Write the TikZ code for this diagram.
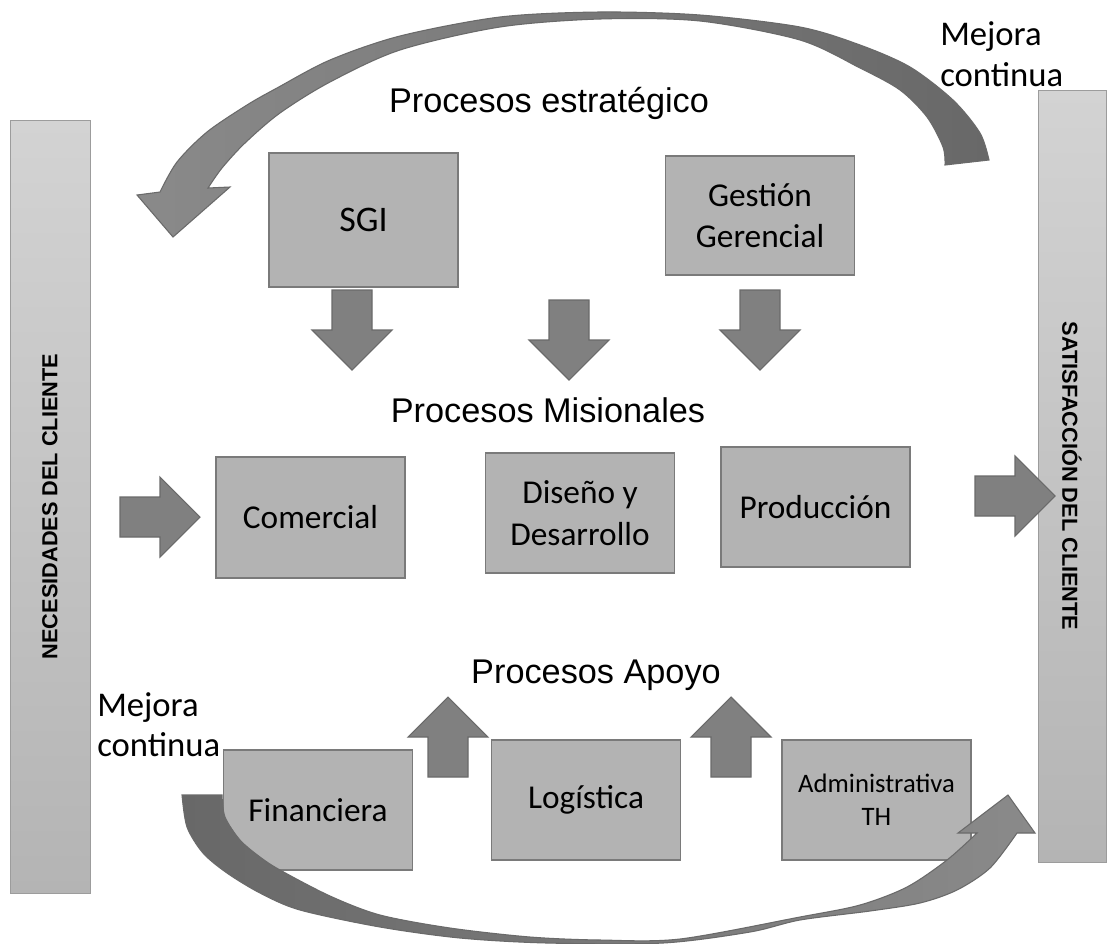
\documentclass[tikz,border=0pt]{standalone}
\usepackage{fontspec}
\setmainfont{Carlito}
\newfontfamily\arialf{Liberation Sans}
\definecolor{boxfill}{HTML}{B3B3B3}
\definecolor{boxline}{HTML}{7A7A7A}
\definecolor{arrfill}{HTML}{808080}
\definecolor{arrline}{HTML}{6A6A6A}
\definecolor{curvdark}{HTML}{686868}
\definecolor{curvlight}{HTML}{8A8A8A}
\definecolor{bartop}{HTML}{D3D3D3}
\definecolor{barbot}{HTML}{B4B4B4}
\definecolor{barline}{HTML}{9C9C9C}
\begin{document}
\begin{tikzpicture}[x=0.75pt,y=-0.75pt,
  procbox/.style={draw=boxline, line width=0.9pt, fill=boxfill, minimum width=141.75pt,
    minimum height=90pt, inner sep=2pt, align=center, font=\fontsize{25}{31}\selectfont},
  sidebar/.style={draw=barline, line width=0.6pt, top color=bartop, bottom color=barbot, inner sep=0pt},
  sidetext/.style={font=\arialf\bfseries\fontsize{16.3}{20}\selectfont, inner sep=0pt},
  titletext/.style={font=\arialf\fontsize{25.7}{30}\selectfont, inner sep=0pt},
  mejtext/.style={font=\fontsize{26}{31}\selectfont, inner sep=0pt, anchor=base west},
  blockarr/.style={fill=arrfill, draw=arrline, line width=0.8pt, line join=miter},
  curvarr/.style={draw=arrline, line width=0.8pt, line join=miter},
  rarr/.pic={\path[blockarr] (0,-20)--(40,-20)--(40,-40)--(80,0)--(40,40)--(40,20)--(0,20)--cycle;},
  darr/.pic={\path[blockarr] (-20,0)--(-20,40)--(-40,40)--(0,80)--(40,40)--(20,40)--(20,0)--cycle;},
  uarr/.pic={\path[blockarr] (-20,0)--(-20,-40)--(-40,-40)--(0,-80)--(40,-40)--(20,-40)--(20,0)--cycle;}
]
\useasboundingbox[fill=white] (0,0) rectangle (1109,943);

% side bars
\node[sidebar, minimum width=60pt, minimum height=579.75pt] (needs) at (50,506.5) {};
\node[sidetext, rotate=90] (needstxt) at (needs.center) {NECESIDADES DEL CLIENTE};
\node[sidebar, minimum width=51pt, minimum height=579pt] (satis) at (1072,476) {};
\node[sidetext, rotate=-90] (satistxt) at (satis.center) {SATISFACCIÓN DEL CLIENTE};

% top curved arrow (mejora continua)
\path[curvarr, left color=curvlight, right color=curvdark]
  (945,165) -- (989,160)
  -- plot[smooth] coordinates {(989,160) (980,133) (953,100) (910,67) (860,45) (800,27) (700,15) (600,12) (500,17) (400,36) (330,60) (277,88) (247,105) (207,132) (177,162) (160,192)}
  -- (137,195) -- (173,237) -- (230,187) -- (208,188)
  -- plot[smooth] coordinates {(208,188) (222,168) (245,143) (280,113) (330,82) (400,50) (500,27) (600,19) (700,21) (800,40) (860,68) (900,90) (927,117) (943,147) (945,165)}
  -- cycle;

% titles
\node[titletext] (tstrat) at (549,103) {Procesos estratégico};
\node[titletext] (tmis) at (548,410) {Procesos Misionales};
\node[titletext] (tapoyo) at (596,675) {Procesos Apoyo};

% strategic boxes
\node[procbox, minimum height=100.5pt, font=\fontsize{27}{31}\selectfont] (sgi) at (363.5,220) {SGI};
\node[procbox, minimum height=89.25pt] (gest) at (760,215.5) {Gestión\\Gerencial};

% missional boxes
\node[procbox, minimum height=90.75pt] (com) at (310.5,517.5) {Comercial};
\node[procbox] (dis) at (580,513) {Diseño y\\Desarrollo};
\node[procbox] (prod) at (815.5,507) {Producción};

% support boxes
\node[procbox] (fin) at (318,810) {Financiera};
\node[procbox] (log) at (586,800) {Logística};
\node[procbox, font=\fontsize{20}{25}\selectfont] (adm) at (876.5,800) {Administrativa\\TH};

% block arrows
\pic at (352,290) {darr};
\pic at (569,300) {darr};
\pic at (760,290) {darr};
\pic at (120,517) {rarr};
\pic at (975,496) {rarr};
\pic at (448,777) {uarr};
\pic at (731,777) {uarr};

% bottom curved arrow (mejora continua)
\path[curvarr, left color=curvdark, right color=curvlight]
  (222,795) -- (182,795)
  -- plot[smooth] coordinates {(182,795) (187,827) (203,853) (227,873) (260,893) (300,910) (380,927) (460,938) (547,943) (663,943) (750,932) (800,920) (870,911) (920,903) (957,890) (990,868) (1017,833)}
  -- (1035,833) -- (1008,795) -- (958,833) -- (977,833)
  -- plot[smooth] coordinates {(977,833) (947,860) (907,887) (860,905) (800,917) (680,939) (600,940) (530,937) (450,928) (380,915) (330,896) (280,870) (260,857) (240,840) (225,817) (222,795)}
  -- cycle;

% mejora continua labels
\node[mejtext] (mejA1) at (940,45) {Mejora};
\node[mejtext] (mejA2) at (940,86) {continua};
\node[mejtext] (mejB1) at (97,716) {Mejora};
\node[mejtext] (mejB2) at (97,756) {continua};
\end{tikzpicture}
\end{document}
